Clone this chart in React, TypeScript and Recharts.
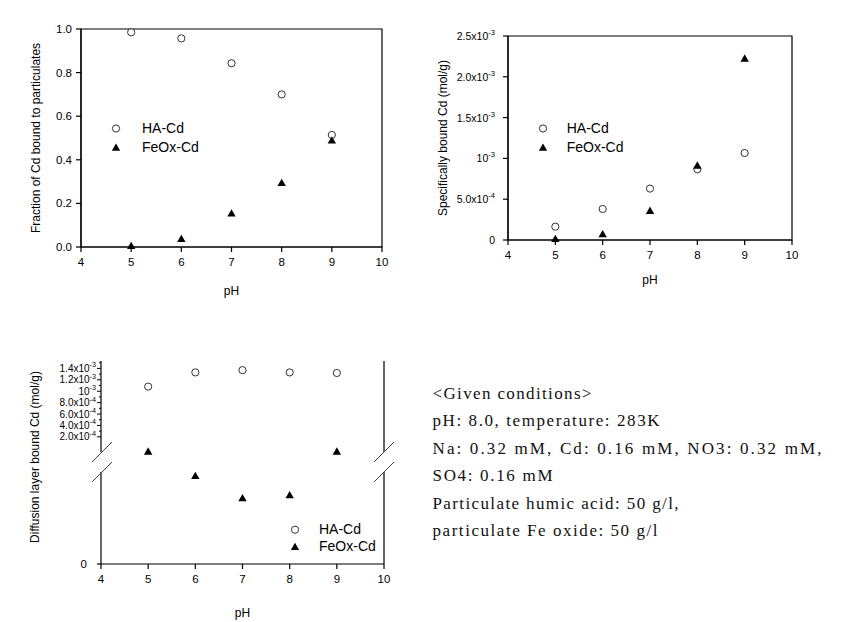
import React from 'react';
import { ScatterChart, Scatter, XAxis, YAxis, ReferenceArea, ReferenceLine, Legend, Label } from 'recharts';

// ---------- data ----------
const pH = [5, 6, 7, 8, 9];
const xTicks = [4, 5, 6, 7, 8, 9, 10];
const seriesNames = ['HA-Cd', 'FeOx-Cd'];
const xTitle = 'pH';

// panel 1: fraction bound to particulates
const fracHA = [0.985, 0.957, 0.843, 0.70, 0.514];
const fracFeOx = [0.006, 0.038, 0.155, 0.295, 0.49];
const fracTicks = [0, 0.2, 0.4, 0.6, 0.8, 1.0];
const fracTickLabels = ['0.0', '0.2', '0.4', '0.6', '0.8', '1.0'];
const fracTitle = 'Fraction of Cd bound to particulates';

// panel 2: specifically bound Cd (mol/g)
const specHA = [1.63e-4, 3.8e-4, 6.3e-4, 8.66e-4, 1.066e-3];
const specFeOx = [1.6e-5, 7.4e-5, 3.6e-4, 9.15e-4, 2.226e-3];
const specTicks = [0, 5e-4, 1e-3, 1.5e-3, 2e-3, 2.5e-3];
const specTickBase = ['0', '5.0x10', '10', '1.5x10', '2.0x10', '2.5x10'];
const specTickExp = ['', '-4', '-3', '-3', '-3', '-3'];
const specTitle = 'Specifically bound Cd (mol/g)';

// panel 3: diffusion layer bound Cd (mol/g), broken axis
const diffHA = [1.08e-3, 1.33e-3, 1.37e-3, 1.33e-3, 1.32e-3];
const diffFeOx = [1.11e-5, 0.87e-5, 0.65e-5, 0.68e-5, 1.11e-5]; // lower (unlabelled) segment
const diffUpperDomain = [-6.6e-5, 1.53e-3];
const diffLowerDomain = [0, 2e-5];
const diffLowerBreak = 0.906e-5;
const diffMajorTicks = [2e-4, 4e-4, 6e-4, 8e-4, 1e-3, 1.2e-3, 1.4e-3];
const diffMajorBase = ['2.0x10', '4.0x10', '6.0x10', '8.0x10', '10', '1.2x10', '1.4x10'];
const diffMajorExp = ['-4', '-4', '-4', '-4', '-3', '-3', '-3'];
const diffMinorTicks = [3e-4, 5e-4, 7e-4, 9e-4, 1.1e-3, 1.3e-3, 1.5e-3];
const diffRightTicks = [1e-4, 2e-4, 3e-4, 4e-4, 5e-4, 6e-4, 7e-4, 8e-4, 9e-4, 1e-3, 1.1e-3, 1.2e-3, 1.3e-3, 1.4e-3, 1.5e-3];
const diffLowerTicks = [0];
const diffLowerTickLabels = ['0'];
const diffTitle = 'Diffusion layer bound Cd (mol/g)';

const conditionLines = [
  '<Given conditions>',
  'pH: 8.0, temperature: 283K',
  'Na: 0.32 mM, Cd: 0.16 mM, NO3: 0.32 mM,',
  'SO4: 0.16 mM',
  'Particulate humic acid: 50 g/l,',
  'particulate Fe oxide: 50 g/l',
];
const conditionWidths = [159, 227, 389, 120, 246, 225];

// ---------- helpers ----------
const SANS = '"Liberation Sans", Arial, sans-serif';
const SERIF = '"Liberation Serif", "DejaVu Serif", serif';
const AX = { stroke: '#000', strokeWidth: 1.2 };
const toPoints = (ys: number[]) => pH.map((x, i) => ({ x, y: ys[i] }));

const Circle = (p: any) => (
  <circle cx={p.cx} cy={p.cy} r={3.6} fill="#fff" stroke="#333" strokeWidth={1} />
);
const Triangle = (p: any) => (
  <polygon
    points={`${p.cx},${p.cy - 4} ${p.cx - 4.2},${p.cy + 3.3} ${p.cx + 4.2},${p.cy + 3.3}`}
    fill="#000"
  />
);

const near = (a: number, b: number) => Math.abs(a - b) < 1e-12;

const sciTick = (values: number[], bases: string[], exps: string[], fs: number, dx = 0) => (props: any) => {
  const { x, y, payload } = props;
  const i = values.findIndex((v) => near(v, payload.value));
  if (i < 0) return <g />;
  return (
    <text x={x + dx} y={y} textAnchor="end" dominantBaseline="central" fontSize={fs} fill="#000" fontFamily={SANS}>
      {bases[i]}
      {exps[i] ? <tspan dy={-4} fontSize={fs * 0.72}>{exps[i]}</tspan> : null}
    </text>
  );
};

// upper-left axis of panel 3: majors with labels, minors short
const diffLeftTick = (props: any) => {
  const { x, y, payload } = props;
  const axisX = x + 6;
  const i = diffMajorTicks.findIndex((v) => near(v, payload.value));
  const len = i >= 0 ? 4 : 2;
  return (
    <g>
      <line x1={axisX - len} x2={axisX} y1={y} y2={y} stroke="#000" strokeWidth={1} />
      {i >= 0 ? (
        <text x={x + 1} y={y} textAnchor="end" dominantBaseline="central" fontSize={10} fill="#000" fontFamily={SANS}>
          {diffMajorBase[i]}
          <tspan dy={-4} fontSize={7.2}>{diffMajorExp[i]}</tspan>
        </text>
      ) : null}
    </g>
  );
};
const diffRightTick = (props: any) => {
  const { x, y } = props;
  return <line x1={x - 2.5} x2={x} y1={y} y2={y} stroke="#000" strokeWidth={1} />;
};

const xTitleLabel = (dy: number) => (props: any) => {
  const vb = props.viewBox || {};
  return (
    <text x={vb.x + vb.width / 2} y={vb.y + dy} textAnchor="middle" dominantBaseline="central" fontSize={12} fill="#000" fontFamily={SANS}>
      {xTitle}
    </text>
  );
};
const yTitleLabel = (text: string, cx: number, dy: number) => (props: any) => {
  const vb = props.viewBox || {};
  const x = vb.x + cx;
  const y = vb.y + vb.height / 2 + dy;
  return (
    <text x={x} y={y} transform={`rotate(-90 ${x} ${y})`} textAnchor="middle" dominantBaseline="central" fontSize={12} fill="#000" fontFamily={SANS}>
      {text}
    </text>
  );
};

const LegendBox = ({ rowH, gap }: { rowH: number; gap: number }) => (
  <div style={{ fontFamily: SANS, fontSize: 14, color: '#000' }}>
    {seriesNames.map((name, i) => (
      <div key={name} style={{ display: 'flex', alignItems: 'center', height: rowH }}>
        <svg width={16} height={rowH} style={{ display: 'block' }}>
          {i === 0 ? (
            <circle cx={8} cy={rowH / 2} r={3.6} fill="#fff" stroke="#333" strokeWidth={1} />
          ) : (
            <polygon points={`8,${rowH / 2 - 4} 3.8,${rowH / 2 + 3.3} 12.2,${rowH / 2 + 3.3}`} fill="#000" />
          )}
        </svg>
        <span style={{ marginLeft: gap, lineHeight: `${rowH}px`, whiteSpace: 'nowrap' }}>{name}</span>
      </div>
    ))}
  </div>
);

const tickStyle = { fontSize: 11.5, fill: '#000', fontFamily: SANS };

export default function App() {
  return (
    <div style={{ position: 'absolute', left: 0, top: 0, width: 849, height: 622, background: '#fff', fontFamily: SANS }}>
      {/* Panel 1 */}
      <div style={{ position: 'absolute', left: 0, top: 0 }}>
        <ScatterChart width={400} height={310} margin={{ top: 29, right: 18, bottom: 0, left: 0 }}>
          <XAxis type="number" dataKey="x" domain={[4, 10]} ticks={xTicks} height={63} tickSize={5} tickMargin={6}
            axisLine={AX} tickLine={AX} tick={tickStyle} interval={0}>
            <Label content={xTitleLabel(44)} />
          </XAxis>
          <YAxis type="number" dataKey="y" domain={[0, 1]} ticks={fracTicks} width={81} tickSize={5} tickMargin={4}
            axisLine={AX} tickLine={AX} tick={tickStyle} interval={0}
            tickFormatter={(v: number) => fracTickLabels[fracTicks.findIndex((t) => near(t, v))]}>
            <Label content={yTitleLabel(fracTitle, 36, 0)} />
          </YAxis>
          <ReferenceArea x1={4} x2={10} y1={0} y2={1} fill="none" stroke="#000" strokeWidth={1.2} />
          <Scatter name={seriesNames[0]} data={toPoints(fracHA)} shape={Circle} isAnimationActive={false} />
          <Scatter name={seriesNames[1]} data={toPoints(fracFeOx)} shape={Triangle} isAnimationActive={false} />
          <Legend layout="vertical" align="center" verticalAlign="middle"
            wrapperStyle={{ position: 'absolute', left: 108, top: 118.5, width: 'auto' }}
            content={() => <LegendBox rowH={19} gap={18} />} />
        </ScatterChart>
      </div>

      {/* Panel 2 */}
      <div style={{ position: 'absolute', left: 420, top: 0 }}>
        <ScatterChart width={420} height={310} margin={{ top: 36, right: 48, bottom: 0, left: 0 }}>
          <XAxis type="number" dataKey="x" domain={[4, 10]} ticks={xTicks} height={70} tickSize={5} tickMargin={6}
            axisLine={AX} tickLine={AX} tick={tickStyle} interval={0}>
            <Label content={xTitleLabel(40)} />
          </XAxis>
          <YAxis type="number" dataKey="y" domain={[0, 2.5e-3]} ticks={specTicks} width={88} tickSize={5} tickMargin={8}
            axisLine={AX} tickLine={AX} interval={0}
            tick={sciTick(specTicks, specTickBase, specTickExp, 10.5)}>
            <Label content={yTitleLabel(specTitle, 23, 0)} />
          </YAxis>
          <ReferenceArea x1={4} x2={10} y1={0} y2={2.5e-3} fill="none" stroke="#000" strokeWidth={1.2} />
          <Scatter name={seriesNames[0]} data={toPoints(specHA)} shape={Circle} isAnimationActive={false} />
          <Scatter name={seriesNames[1]} data={toPoints(specFeOx)} shape={Triangle} isAnimationActive={false} />
          <Legend layout="vertical" align="center" verticalAlign="middle"
            wrapperStyle={{ position: 'absolute', left: 114.7, top: 118.5, width: 'auto' }}
            content={() => <LegendBox rowH={19} gap={16} />} />
        </ScatterChart>
      </div>

      {/* Panel 3, lower segment (x axis, FeOx) */}
      <div style={{ position: 'absolute', left: 0, top: 340 }}>
        <ScatterChart width={400} height={282} margin={{ top: 21, right: 16, bottom: 0, left: 0 }}>
          <XAxis type="number" dataKey="x" domain={[4, 10]} ticks={xTicks} height={58} tickSize={5} tickMargin={6}
            axisLine={AX} tickLine={AX} tick={tickStyle} interval={0}>
            <Label content={xTitleLabel(49)} />
          </XAxis>
          <YAxis type="number" dataKey="y" domain={diffLowerDomain} ticks={diffLowerTicks} width={101} tickSize={4} tickMargin={10}
            axisLine={false} tickLine={AX} tick={tickStyle} interval={0}
            tickFormatter={(v: number) => diffLowerTickLabels[diffLowerTicks.findIndex((t) => near(t, v))]}>
            <Label content={yTitleLabel(diffTitle, 35, -5.5)} />
          </YAxis>
          <ReferenceLine segment={[{ x: 4, y: 0 }, { x: 4, y: diffLowerBreak }]} stroke="#000" strokeWidth={1.2} />
          <ReferenceLine segment={[{ x: 10, y: 0 }, { x: 10, y: diffLowerBreak }]} stroke="#000" strokeWidth={1.2} />
          <Scatter name={seriesNames[1]} data={toPoints(diffFeOx)} shape={Triangle} isAnimationActive={false} />
          <Legend layout="vertical" align="center" verticalAlign="middle"
            wrapperStyle={{ position: 'absolute', left: 287, top: 180.6, width: 'auto' }}
            content={() => <LegendBox rowH={17.4} gap={16} />} />
        </ScatterChart>
      </div>

      {/* Panel 3, upper segment (HA) */}
      <div style={{ position: 'absolute', left: 0, top: 340 }}>
        <ScatterChart width={400} height={120} margin={{ top: 21, right: 0, bottom: 8, left: 0 }}>
          <XAxis type="number" dataKey="x" orientation="top" domain={[4, 10]} ticks={xTicks} height={0}
            tick={false} tickLine={false} axisLine={AX} />
          <YAxis type="number" dataKey="y" domain={diffUpperDomain} ticks={[...diffMajorTicks, ...diffMinorTicks].sort((a, b) => a - b)}
            width={101} tickSize={4} tickMargin={2} axisLine={AX} tickLine={false} tick={diffLeftTick} interval={0} />
          <YAxis yAxisId="r" type="number" orientation="right" domain={diffUpperDomain} ticks={diffRightTicks}
            width={16} tickSize={0} tickMargin={0} axisLine={AX} tickLine={false} tick={diffRightTick} interval={0} />
          <Scatter name={seriesNames[0]} data={toPoints(diffHA)} shape={Circle} isAnimationActive={false} />
        </ScatterChart>
      </div>

      {/* axis-break marks */}
      <svg width={849} height={622} style={{ position: 'absolute', left: 0, top: 0, pointerEvents: 'none' }}>
        <g stroke="#444" strokeWidth={1}>
          <line x1={92} y1={462} x2={112} y2={442} />
          <line x1={92} y1={482} x2={112} y2={462} />
          <line x1={374} y1={462} x2={394} y2={442} />
          <line x1={374} y1={482} x2={394} y2={462} />
        </g>
      </svg>

      {/* given conditions */}
      <svg width={849} height={622} style={{ position: 'absolute', left: 0, top: 0, pointerEvents: 'none' }}>
        {conditionLines.map((t, i) => (
          <text key={i} x={432.5} y={399 + i * 27.4} fontFamily={SERIF} fontSize={17} fill="#111"
            textLength={conditionWidths[i]} lengthAdjust="spacing">
            {t}
          </text>
        ))}
      </svg>
    </div>
  );
}
